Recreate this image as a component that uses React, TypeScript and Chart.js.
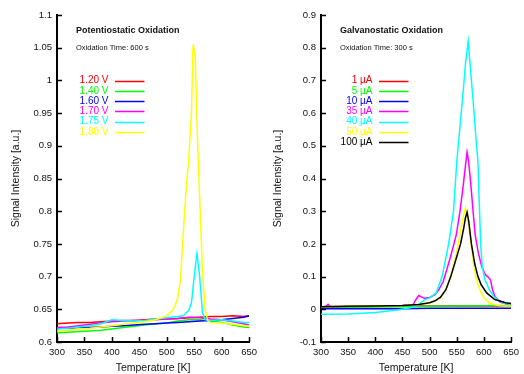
import React, { useEffect, useRef } from "react";
import { Chart, registerables } from "chart.js";

Chart.register(...registerables);

const FONT = '"Liberation Sans", Arial, Helvetica, sans-serif';

// ---------- Left panel: Potentiostatic Oxidation ----------
const leftLabels = ["1.20 V", "1.40 V", "1.60 V", "1.70 V", "1.75 V", "1.80 V"];
const baseT = [300, 320, 340, 360, 380, 400, 420, 440, 460, 480, 500, 520, 540, 560, 580, 600, 620, 640, 650];
const v120 = [0.628, 0.629, 0.630, 0.630, 0.631, 0.632, 0.633, 0.633, 0.634, 0.635, 0.635, 0.636, 0.637, 0.638, 0.639, 0.639, 0.640, 0.639, 0.640];
const v140 = [0.614, 0.615, 0.616, 0.617, 0.618, 0.620, 0.622, 0.624, 0.626, 0.628, 0.629, 0.632, 0.634, 0.634, 0.632, 0.630, 0.626, 0.623, 0.622];
const v160 = [0.621, 0.621, 0.622, 0.622, 0.623, 0.624, 0.625, 0.626, 0.627, 0.628, 0.629, 0.630, 0.631, 0.632, 0.633, 0.634, 0.636, 0.638, 0.640];
const v170 = [0.622, 0.623, 0.625, 0.627, 0.629, 0.631, 0.632, 0.633, 0.633, 0.634, 0.635, 0.636, 0.638, 0.637, 0.635, 0.634, 0.631, 0.628, 0.626];
const t175 = [300, 320, 340, 360, 380, 400, 420, 440, 460, 480, 500, 520, 530, 540, 545, 550, 555, 560, 565, 570, 580, 600, 620, 640, 650];
const v175 = [0.620, 0.621, 0.623, 0.625, 0.628, 0.634, 0.633, 0.632, 0.633, 0.635, 0.637, 0.639, 0.640, 0.648, 0.660, 0.700, 0.735, 0.700, 0.645, 0.634, 0.633, 0.634, 0.632, 0.630, 0.630];
const t180 = [300, 320, 340, 360, 380, 400, 420, 440, 460, 480, 500, 510, 515, 520, 525, 530, 535, 540, 545, 548, 552, 556, 560, 565, 570, 575, 580, 600, 620, 640, 650];
const v180 = [0.617, 0.618, 0.620, 0.621, 0.623, 0.625, 0.627, 0.629, 0.631, 0.634, 0.640, 0.648, 0.655, 0.668, 0.695, 0.765, 0.83, 0.88, 0.95, 1.055, 1.035, 0.91, 0.82, 0.71, 0.65, 0.632, 0.630, 0.629, 0.627, 0.625, 0.624];
const leftColors = ["#ff0000", "#00ff00", "#0000ff", "#ff00ff", "#00ffff", "#ffff00"];
const leftYTicks = [0.6, 0.65, 0.7, 0.75, 0.8, 0.85, 0.9, 0.95, 1, 1.05, 1.1];

// ---------- Right panel: Galvanostatic Oxidation ----------
const rightLabels = ["1 µA", "5 µA", "10 µA", "35 µA", "40 µA", "50 µA", "100 µA"];
const flatT = [300, 350, 400, 450, 500, 550, 600, 650];
const c1 = [0.008, 0.008, 0.009, 0.009, 0.010, 0.010, 0.010, 0.010];
const c5 = [0.005, 0.006, 0.007, 0.008, 0.009, 0.010, 0.011, 0.012];
const c10 = [0.002, 0.002, 0.002, 0.002, 0.003, 0.003, 0.003, 0.003];
const t35 = [300, 305, 310, 313, 316, 320, 350, 400, 450, 470, 475, 480, 485, 490, 500, 510, 517, 525, 532, 540, 549, 556, 562, 566, 569, 572, 576, 580, 584, 590, 596, 603, 607, 612, 616, 620, 630, 640, 650];
const c35 = [0.008, 0.008, 0.010, 0.015, 0.010, 0.008, 0.009, 0.010, 0.012, 0.015, 0.030, 0.042, 0.038, 0.034, 0.036, 0.045, 0.06, 0.085, 0.123, 0.17, 0.227, 0.30, 0.38, 0.44, 0.48, 0.45, 0.38, 0.30, 0.227, 0.17, 0.13, 0.105, 0.10, 0.09, 0.06, 0.04, 0.022, 0.017, 0.015];
const t40 = [300, 350, 400, 420, 440, 460, 470, 480, 490, 500, 512, 523, 535, 544, 550, 556, 562, 566, 571, 575, 580, 585, 589, 592, 594, 597, 602, 610, 618, 625, 635, 650];
const c40 = [-0.015, -0.014, -0.010, -0.006, -0.002, 0.003, 0.007, 0.015, 0.028, 0.035, 0.05, 0.10, 0.20, 0.30, 0.45, 0.56, 0.67, 0.75, 0.82, 0.74, 0.64, 0.53, 0.45, 0.30, 0.20, 0.13, 0.09, 0.06, 0.04, 0.03, 0.02, 0.015];
const t50 = [300, 350, 400, 450, 480, 500, 510, 520, 530, 538, 545, 553, 558, 563, 566, 569, 573, 576, 580, 585, 590, 595, 600, 610, 620, 630, 640, 650];
const c50 = [0.008, 0.009, 0.010, 0.012, 0.015, 0.020, 0.025, 0.035, 0.06, 0.10, 0.14, 0.20, 0.25, 0.29, 0.31, 0.28, 0.24, 0.20, 0.15, 0.10, 0.07, 0.05, 0.035, 0.02, 0.014, 0.011, 0.010, 0.010];
const t100 = [300, 350, 400, 450, 480, 500, 510, 520, 530, 539, 548, 557, 563, 566, 569, 572, 577, 583, 589, 595, 605, 620, 640, 650];
const c100 = [0.008, 0.009, 0.010, 0.012, 0.015, 0.020, 0.026, 0.037, 0.06, 0.10, 0.15, 0.20, 0.25, 0.28, 0.297, 0.27, 0.20, 0.14, 0.10, 0.075, 0.05, 0.03, 0.02, 0.018];
const rightColors = ["#ff0000", "#00ff00", "#0000ff", "#ff00ff", "#00ffff", "#ffff00", "#000000"];
const rightYTicks = [-0.1, 0, 0.1, 0.2, 0.3, 0.4, 0.5, 0.6, 0.7, 0.8, 0.9];

const xTicks = [300, 350, 400, 450, 500, 550, 600, 650];

const zip = (xs: number[], ys: number[]) => xs.map((x, i) => ({ x, y: ys[i] }));

type Panel = {
  title: string;
  subtitle: string;
  labels: string[];
  colors: string[];
  series: { x: number; y: number }[][];
  yTicks: number[];
  yLeft: number;
  rightPad: number;
};

const panels: Panel[] = [
  {
    title: "Potentiostatic Oxidation",
    subtitle: "Oxidation Time: 600 s",
    labels: leftLabels,
    colors: leftColors,
    series: [zip(baseT, v120), zip(baseT, v140), zip(baseT, v160), zip(baseT, v170), zip(t175, v175), zip(t180, v180)],
    yTicks: leftYTicks,
    yLeft: 57,
    rightPad: 11,
  },
  {
    title: "Galvanostatic Oxidation",
    subtitle: "Oxidation Time: 300 s",
    labels: rightLabels,
    colors: rightColors,
    series: [zip(flatT, c1), zip(flatT, c5), zip(flatT, c10), zip(t35, c35), zip(t40, c40), zip(t50, c50), zip(t100, c100)],
    yTicks: rightYTicks,
    yLeft: 59,
    rightPad: 8,
  },
];

function ChartPanel({ p }: { p: Panel }) {
  const ref = useRef<HTMLCanvasElement | null>(null);
  useEffect(() => {
    if (!ref.current) return;
    const n = p.series.length;
    const deco = {
      id: "deco",
      afterDraw(chart: any) {
        const ctx = chart.ctx;
        const a = chart.chartArea;
        const xs = chart.scales.x;
        const ys = chart.scales.y;
        ctx.save();
        // inward ticks
        ctx.strokeStyle = "#000";
        ctx.lineWidth = 1.5;
        ctx.beginPath();
        xTicks.forEach((t) => {
          const px = Math.round(xs.getPixelForValue(t)) + 0.5;
          ctx.moveTo(px, a.bottom);
          ctx.lineTo(px, a.bottom - 5);
        });
        p.yTicks.forEach((t) => {
          const py = Math.round(ys.getPixelForValue(t)) + 0.5;
          ctx.moveTo(a.left, py);
          ctx.lineTo(a.left + 5, py);
        });
        ctx.stroke();
        // titles
        ctx.fillStyle = "#111";
        ctx.textAlign = "left";
        ctx.textBaseline = "middle";
        ctx.font = `bold 9px ${FONT}`;
        ctx.fillText(p.title, a.left + 19, 31);
        ctx.font = `7.5px ${FONT}`;
        ctx.fillText(p.subtitle, a.left + 19, 48);
        // legend
        ctx.font = `10px ${FONT}`;
        p.labels.forEach((lab, i) => {
          const y = 80.5 + i * 10.25;
          ctx.fillStyle = p.colors[i];
          ctx.textAlign = "right";
          ctx.fillText(lab, a.left + 51.5, y);
          ctx.strokeStyle = p.colors[i];
          ctx.lineWidth = 1.5;
          ctx.beginPath();
          ctx.moveTo(a.left + 58, Math.round(y) + 0.5);
          ctx.lineTo(a.left + 87.5, Math.round(y) + 0.5);
          ctx.stroke();
        });
        // axis titles
        ctx.fillStyle = "#111";
        ctx.font = `10.5px ${FONT}`;
        ctx.textAlign = "center";
        ctx.fillText("Temperature [K]", (a.left + a.right) / 2, 368);
        ctx.translate(16, (a.top + a.bottom) / 2);
        ctx.rotate(-Math.PI / 2);
        ctx.fillText("Signal Intensity [a.u.]", 0, 0);
        ctx.restore();
      },
    };
    const chart = new Chart(ref.current, {
      type: "scatter",
      data: {
        datasets: p.series.map((d, i) => ({
          label: p.labels[i],
          data: d,
          showLine: true,
          borderColor: p.colors[i],
          backgroundColor: p.colors[i],
          borderWidth: 1.5,
          pointRadius: 0,
          tension: 0,
          order: n - i,
        })),
      },
      options: {
        responsive: false,
        maintainAspectRatio: false,
        animation: false,
        layout: { padding: { left: 0, top: 15, right: p.rightPad, bottom: 0 } },
        plugins: { legend: { display: false }, tooltip: { enabled: false } },
        scales: {
          x: {
            type: "linear",
            min: 300,
            max: 650,
            afterBuildTicks: (s: any) => {
              s.ticks = xTicks.map((v) => ({ value: v }));
            },
            afterFit: (s: any) => {
              s.height = 32;
            },
            grid: { display: false, drawTicks: false },
            border: { display: true, color: "#000", width: 2 },
            ticks: {
              padding: 5,
              color: "#111",
              font: { family: FONT, size: 9.5 },
              maxRotation: 0,
              callback: (v: any) => String(v),
            },
          },
          y: {
            type: "linear",
            min: p.yTicks[0],
            max: p.yTicks[p.yTicks.length - 1],
            afterBuildTicks: (s: any) => {
              s.ticks = p.yTicks.map((v) => ({ value: v }));
            },
            afterFit: (s: any) => {
              s.width = p.yLeft;
            },
            grid: { display: false, drawTicks: false },
            border: { display: true, color: "#000", width: 2 },
            ticks: {
              padding: 5,
              color: "#111",
              font: { family: FONT, size: 9.5 },
              callback: (v: any) => String(+Number(v).toFixed(2)),
            },
          },
        },
      },
      plugins: [deco],
    } as any);
    return () => chart.destroy();
  }, [p]);
  return <canvas ref={ref} width={262} height={374} style={{ display: "block", width: 262, height: 374 }} />;
}

export default function App() {
  return (
    <div style={{ position: "fixed", left: 0, top: 0, width: 524, height: 374, display: "flex", background: "#fff" }}>
      {panels.map((p, i) => (
        <ChartPanel key={i} p={p} />
      ))}
    </div>
  );
}
